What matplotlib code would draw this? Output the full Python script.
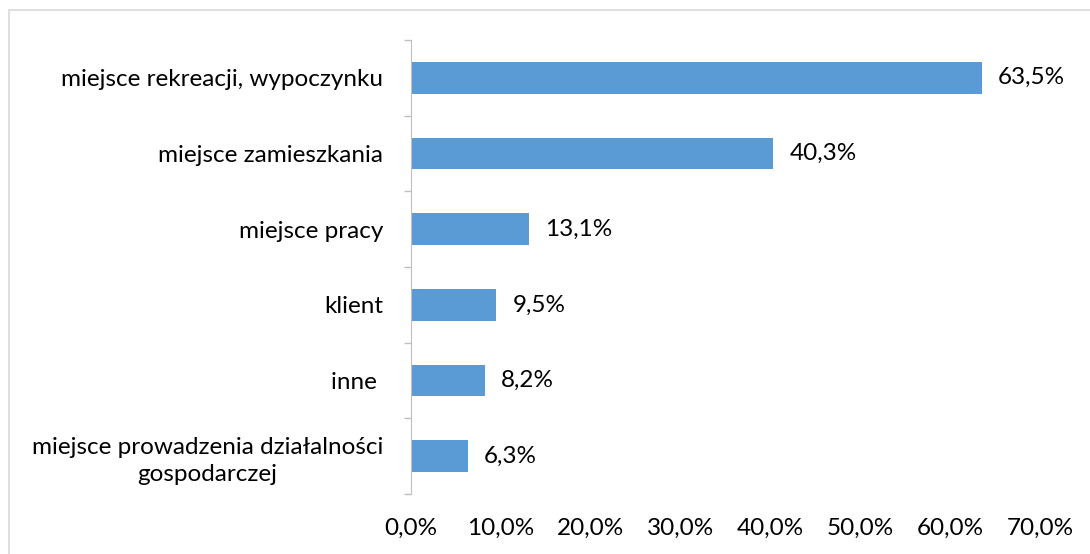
import matplotlib.pyplot as plt
from matplotlib.patches import Rectangle
from matplotlib.ticker import FixedLocator, FuncFormatter

# Data (top to bottom as in the picture)
categories = [
    "miejsce rekreacji, wypoczynku",
    "miejsce zamieszkania",
    "miejsce pracy",
    "klient",
    "inne ",
    "miejsce prowadzenia działalności\ngospodarczej",
]
values = [63.5, 40.3, 13.1, 9.5, 8.2, 6.3]
x_ticks = [0, 10, 20, 30, 40, 50, 60, 70]

plt.rcParams['font.family'] = ['Lato', 'DejaVu Sans']
FS = 17.5

fig = plt.figure(figsize=(10.9, 5.54), dpi=100)
ax = fig.add_axes([0.377, 0.108, 0.5777, 0.820])

# outer chart border (only top and left are inside the picture)
fig.patches.append(Rectangle((9 / 1090, -0.05), 1.1, 1.05 - 10 / 554,
                             transform=fig.transFigure, fill=False,
                             edgecolor="#D9D9D9", linewidth=1.2))

pos = list(range(len(categories)))[::-1]
ax.barh(pos, values, height=0.42, color="#5B9BD5")

for p, v in zip(pos, values):
    ax.annotate(f"{v:.1f}%".replace(".", ","), (v, p), xytext=(11.5, 0),
                textcoords="offset points", va="center", ha="left",
                fontsize=FS)

ax.set_xlim(0, 70)
ax.set_ylim(-0.5, len(categories) - 0.5)
ax.set_xticks(x_ticks)
ax.xaxis.set_major_formatter(FuncFormatter(lambda x, _: f"{x:.1f}%".replace(".", ",")))
ax.set_yticks(pos)
ax.set_yticklabels(categories, multialignment="center", linespacing=1.35)
ax.yaxis.set_minor_locator(FixedLocator([i - 0.5 for i in range(len(categories) + 1)]))

ax.tick_params(axis="y", which="major", length=0, pad=20, labelsize=FS)
ax.tick_params(axis="y", which="minor", length=5, color="#BFBFBF", width=1)
ax.tick_params(axis="x", length=0, pad=17, labelsize=FS)

for s in ["top", "right", "bottom"]:
    ax.spines[s].set_visible(False)
ax.spines["left"].set_color("#BFBFBF")

fig.savefig("out.png", dpi=100)
